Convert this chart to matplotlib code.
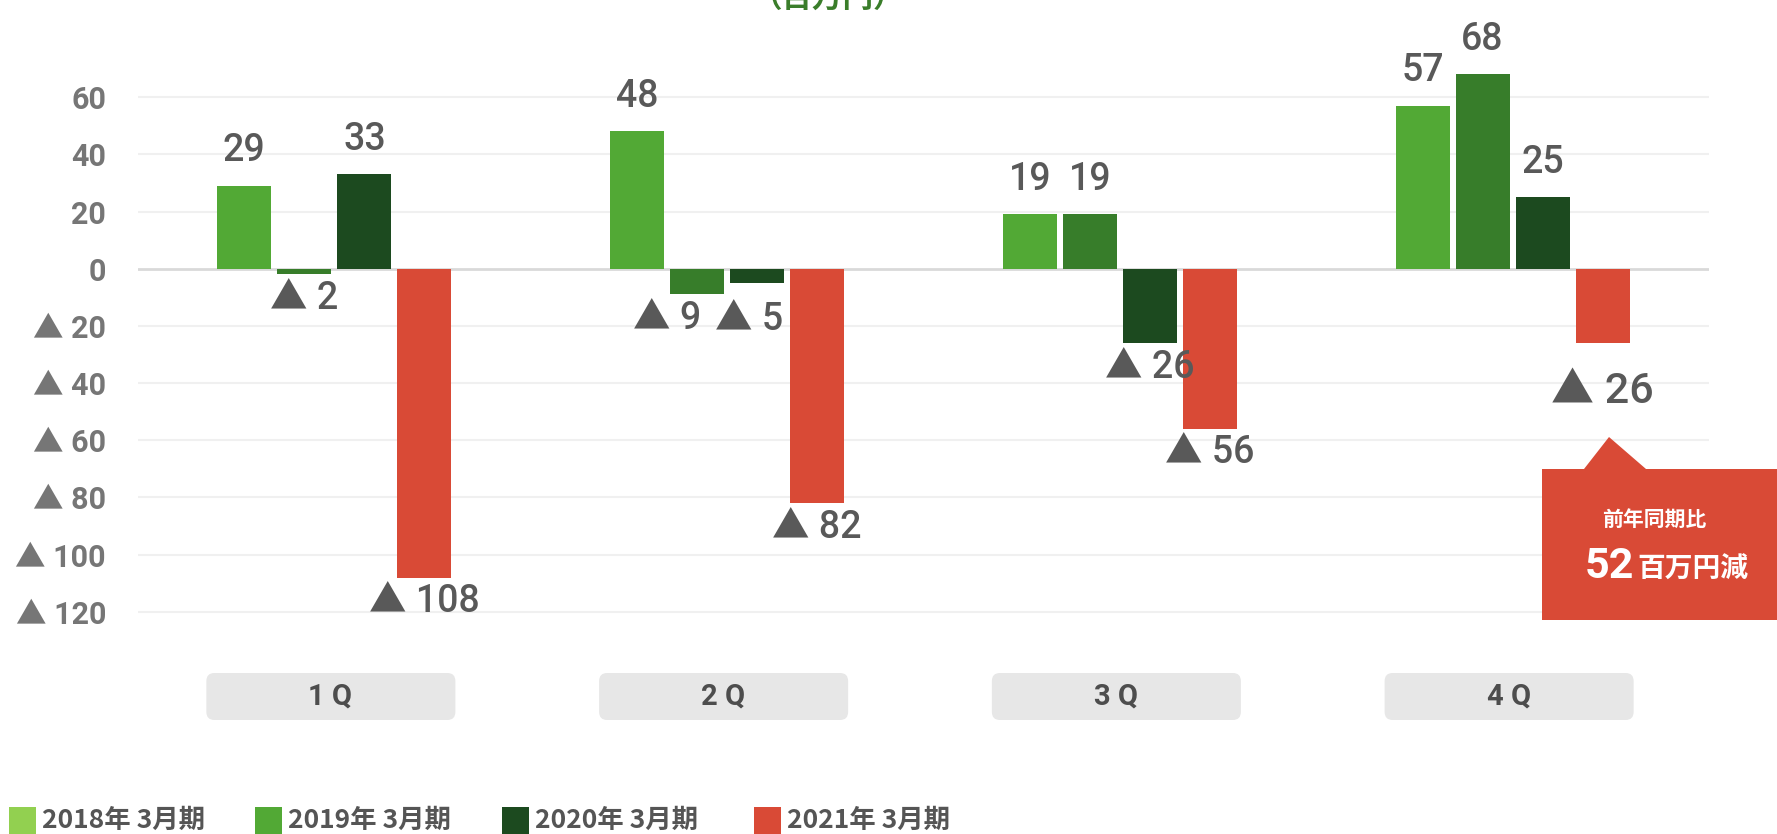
import numpy as np
import matplotlib.pyplot as plt
from matplotlib.patches import FancyBboxPatch, Polygon, Rectangle

# values (百万円) per quarter
quarters = ['1 Q', '2 Q', '3 Q', '4 Q']
fy2018 = [29, 48, 19, 57]
fy2019 = [-2, -9, 19, 68]
fy2020 = [33, -5, -26, 25]
fy2021 = [-108, -82, -56, -26]
legend_labels = ['2018年 3月期', '2019年 3月期', '2020年 3月期', '2021年 3月期']
yticks = [-120, -100, -80, -60, -40, -20, 0, 20, 40, 60]

bar_colors = ['#52a935', '#377d2a', '#1c4a1f', '#d94a36']
legend_colors = ['#92d050', '#52a935', '#1c4a1f', '#d94a36']

W, H = 1777, 834
fig = plt.figure(figsize=(W/100, H/100), dpi=100)
ax = fig.add_axes([138/W, 1-669/H, (1709-138)/W, (669-40)/H])

JP = ['Noto Sans CJK JP', 'DejaVu Sans']
NUM = ['Roboto', 'Noto Sans CJK JP', 'DejaVu Sans']

def fmt(v):
    return '▲ {:d}'.format(abs(v)) if v < 0 else '{:d}'.format(v)

x = np.arange(len(quarters))
pitch, width = 0.1529, 0.1376
series = [fy2018, fy2019, fy2020, fy2021]
# small label nudges (pixels) where labels would collide
nudge = {(1, 1): (-30, 0), (2, 1): (-8, -12), (3, 3): (0, -24)}
for k, vals in enumerate(series):
    xs = x + (k-1.5)*pitch
    ax.bar(xs, vals, width, color=bar_colors[k], zorder=3)
    for i, v in enumerate(vals):
        dx, extra = nudge.get((k, i), (0, 0))
        dy = (35 if v > 0 else -24) + extra
        ax.annotate(fmt(v), (xs[i], v), xytext=(dx, dy),
                    textcoords='offset pixels', ha='center', va='center',
                    fontsize=31 if (k, i) == (3, 3) else 27, color='#595959',
                    family=NUM, weight='medium', zorder=4)

ax.set_xlim(-0.5, 3.5)
ax.set_ylim(-140, 80)
ax.set_yticks(yticks)
ax.set_yticklabels([fmt(t) for t in yticks], family=NUM, weight='bold',
                   color='#767676', fontsize=22)
ax.set_xticks([])
ax.tick_params(axis='y', length=0, pad=23)
for s in ax.spines.values():
    s.set_visible(False)
for t in yticks:
    ax.axhline(t, color='#d9d9d9' if t == 0 else '#f0f0f0',
               lw=2 if t == 0 else 1.5, zorder=1)

# quarter boxes under the axis
for i, q in enumerate(quarters):
    cx = ax.transData.transform((i, 0))[0] - 4
    bx = FancyBboxPatch(((cx-124)/W, 1-720/H), 249/W, 47/H,
                        boxstyle='round,pad=0,rounding_size=0.0045',
                        mutation_aspect=W/H, transform=fig.transFigure,
                        facecolor='#e7e7e7', edgecolor='none')
    fig.patches.append(bx)
    fig.text(cx/W, 1-697/H, q, ha='center', va='center', fontsize=21,
             color='#4d4d4d', family=NUM, weight='bold')

# unit title, cut at the top edge
fig.text(828/W, 1-14/H, '（百万円）', ha='center', va='bottom', fontsize=22,
         color='#3a7d2a', family=JP, weight='bold')

# legend
lx = [9, 255, 502, 754]
for c, lab, px in zip(legend_colors, legend_labels, lx):
    fig.patches.append(Rectangle((px/W, 0), 27/W, 27/H, transform=fig.transFigure,
                                 facecolor=c, edgecolor='none'))
    fig.text((px+33)/W, 1-820/H, lab, ha='left', va='center', fontsize=19,
             color='#555555', family=JP, weight='bold')

# callout
pts = [(1542, 469), (1584, 469), (1609, 437), (1646, 469), (1777, 469),
       (1777, 620), (1542, 620)]
fig.patches.append(Polygon([(a/W, 1-b/H) for a, b in pts], closed=True,
                           transform=fig.transFigure, facecolor='#d94a36',
                           edgecolor='none'))
fig.text(1654/W, 1-519/H, '前年同期比', ha='center', va='center', fontsize=15,
         color='white', family=JP, weight='bold')
fig.text(1634/W, 1-578/H, '52', ha='right', va='baseline', fontsize=31,
         color='white', family=NUM, weight='bold')
fig.text(1637/W, 1-578/H, '百万円減', ha='left', va='baseline', fontsize=20,
         color='white', family=JP, weight='bold')

fig.savefig('out.png', dpi=100)
